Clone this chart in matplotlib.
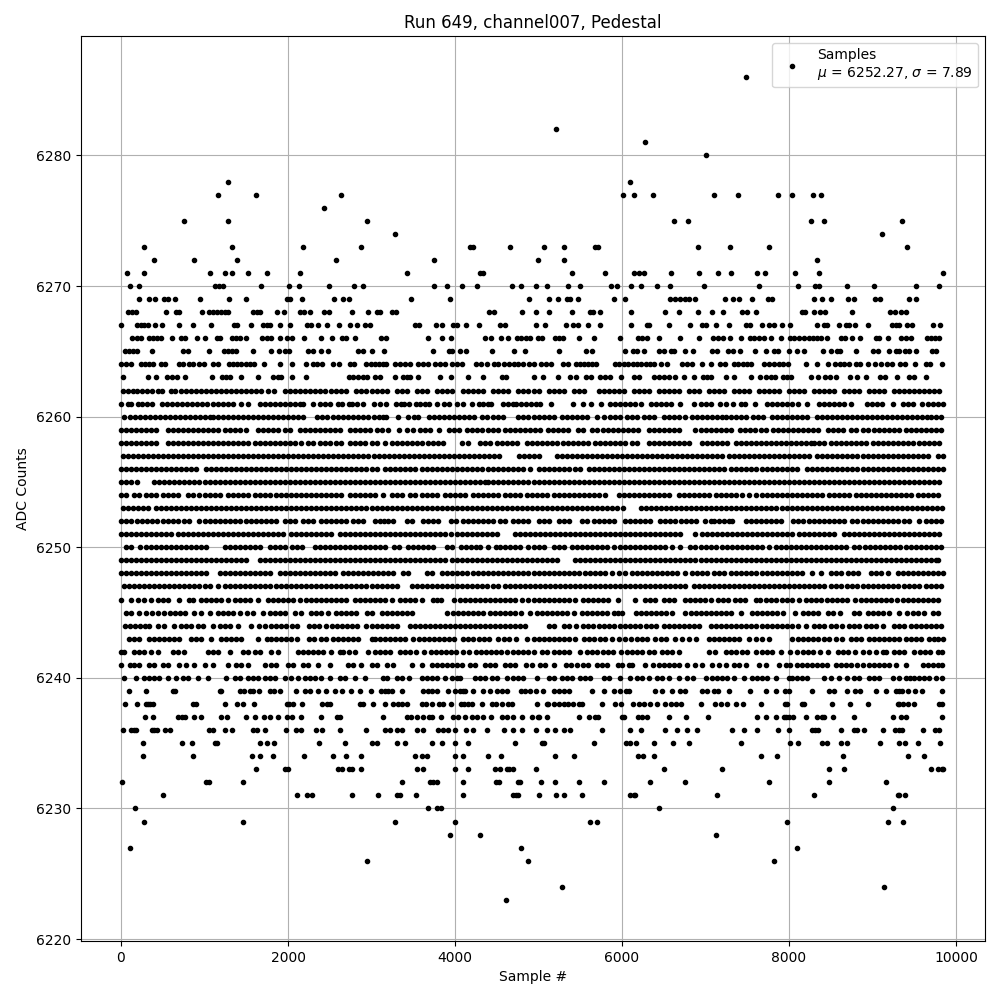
import matplotlib
matplotlib.use("Agg")
import matplotlib.pyplot as plt

# Sample numbers per ADC level.
# Outer levels are close to the real points. In the dense band the dots overlap,
# so single samples can't be told apart: there the lists only follow the visible dashes.
s6286 = [7485]
s6282 = [5208]
s6281 = [6276]
s6280 = [7008]
s6278 = [1284, 6096]
s6277 = [1164, 1620, 2640, 6012, 6144, 6372, 7104, 7392, 7872, 8040, 8292, 8388]
s6276 = [2436]
s6275 = [756, 1284, 2952, 6624, 6792, 8268, 8424, 9348]
s6274 = [3276, 9108]
s6273 = [276, 1332, 2184, 2880, 4180, 4216, 4656, 5064, 5304, 5676, 5712, 6912, 7296, 7764, 9408]
s6272 = [396, 876, 1392, 2580, 3744, 4992, 5304, 8340]
s6271 = [72, 276, 1068, 1248, 1324, 1524, 1752, 2148, 3420, 4300, 4340, 5400, 5796, 6144, 6204, 6268,
         6588, 6924, 7152, 7308, 7620, 7716, 8076, 8364, 9840]
s6270 = [108, 216, 1124, 1172, 1224, 1680, 2016, 2136, 2496, 2796, 2904, 3744, 3900, 4080, 4260, 4680,
         4788, 4968, 5100, 5352, 5496, 5868, 5940, 6108, 6232, 6420, 6576, 6984, 7644, 8112, 8316, 8364,
         8700, 9012, 9516, 9792]
s6269 = [216, 336, 408, 516, 564, 648, 948, 1296, 1500, 1992, 2024, 2168, 2556, 2664, 2736, 3468, 3936,
         4884, 5124, 5232, 5340, 5376, 5472, 5904, 6036, 6576, 6636, 6696, 6756, 6804, 6876, 7236, 7332,
         7404, 7560, 7752, 7800, 8304, 8400, 8508, 8712, 8784, 9024, 9084, 9432, 9516]
s6268 = [84, 132, 180, 540, 660, 692, 972, 1056, 1104, 1152, 1200, 1248, 1284, 1584, 1632, 1668, 1872,
         1956, 2148, 2196, 2268, 2436, 2496, 2764, 2964, 3064, 3104, 3240, 3288, 4404, 4464, 4800, 4968,
         5124, 5400, 5616, 5652, 5736, 6108, 6516, 6684, 6912, 7080, 7212, 7440, 7500, 7608, 8160, 8196,
         8304, 8376, 8436, 8760, 9204, 9264, 9336, 9396]
s6267 = [4, 192, 240, 276, 324, 408, 492, 696, 864, 1080, 1356, 1392, 1560, 1704, 1752, 1788, 1908, 2028,
         2232, 2280, 2364, 2472, 2616, 2748, 2832, 2928, 2976, 3516, 3564, 3768, 3840, 3972, 4020, 4128,
         4284, 4536, 4604, 4968, 5076, 5328, 5412, 5472, 5592, 5736, 6108, 6300, 6324, 6564, 6816, 6960,
         7008, 7128, 7284, 7488, 7536, 7680, 7764, 7824, 7920, 8016, 8340, 8424, 8460, 8604, 8688, 8724,
         8796, 8940, 9228, 9276, 9312, 9408, 9468, 9720, 9804]
s6266 = [132, 192, 240, 336, 384, 432, 480, 612, 720, 768, 912, 1008, 1152, 1188, 1332, 1380, 1428, 1500,
         1692, 1752, 1800, 1908, 1992, 2052, 2192, 2400, 2532, 2652, 2700, 2808, 3108, 3168, 3672, 3840,
         3948, 4356, 4428, 4548, 4632, 4740, 4788, 4848, 4904, 4992, 5040, 5196, 5244, 5292, 5484, 5664,
         5976, 6192, 6240, 6300, 6444, 6696, 6924, 7092, 7152, 7212, 7296, 7428, 7536, 7584, 7644, 7704,
         7788, 7908, 8016, 8064, 8124, 8184, 8244, 8292, 8340, 8388, 8460, 8628, 8676, 8760, 8856, 9036,
         9072, 9180, 9336, 9396, 9456, 9652, 9696, 9744, 9792]
s6265 = [48, 96, 144, 192, 372, 744, 804, 1056, 1236, 1284, 1332, 1380, 1584, 1800, 1896, 1968, 2016, 2244,
         2304, 2400, 2484, 2844, 2904, 3000, 3144, 3732, 3924, 3960, 4056, 4128, 4440, 4704, 4836, 5244,
         5568, 5640, 6036, 6132, 6180, 6264, 6444, 6504, 6588, 6624, 6756, 6852, 7080, 7140, 7272, 7332,
         7416, 7596, 7728, 7824, 7872, 8004, 8100, 8184, 8412, 8508, 8580, 8616, 8808, 9000, 9060, 9192,
         9276, 9312, 9384, 9432, 9516, 9708, 9756]
s6264 = [4, 64, 124, 240, 288, 336, 384, 480, 528, 696, 744, 816, 864, 936, 996, 1104, 1164, 1296, 1344,
         1392, 1440, 1500, 1548, 1596, 1716, 1908, 2052, 2220, 2304, 2352, 2412, 2544, 2616, 2748, 2796,
         2940, 2988, 3036, 3084, 3132, 3168, 3276, 3336, 3396, 3456, 3552, 3612, 3672, 3756, 3816, 3876,
         3960, 4020, 4080, 4248, 4308, 4380, 4464, 4512, 4584, 4644, 4704, 4752, 4812, 4884, 4944, 5028,
         5088, 5148, 5292, 5352, 5448, 5496, 5544, 5592, 5640, 5688, 5916, 5964, 6024, 6072, 6132, 6180,
         6228, 6288, 6336, 6384, 6468, 6540, 6720, 6780, 6840, 6960, 7068, 7176, 7236, 7344, 7392, 7452,
         7500, 7548, 7704, 7764, 7824, 7884, 7932, 7992, 8208, 8340, 8472, 8556, 8616, 8664, 8724, 8808,
         8856, 8940, 9024, 9096, 9168, 9228, 9324, 9384, 9504, 9636, 9684, 9828]
s6263 = [24, 324, 420, 552, 612, 672, 768, 1092, 1212, 1260, 1308, 1440, 1644, 1824, 1884, 1920, 2052, 2220,
         2736, 2784, 2844, 2904, 2952, 3036, 3096, 3276, 3372, 3420, 3456, 3552, 3816, 3948, 4152, 4332,
         4560, 4608, 4944, 5052, 5232, 5376, 5448, 5568, 5628, 5736, 5796, 5856, 5988, 6144, 6204, 6384,
         6444, 6504, 6564, 6636, 6744, 6864, 6972, 7020, 7068, 7248, 7344, 7548, 7656, 7728, 7788, 7836,
         7932, 7980, 8028, 8268, 8352, 8436, 8496, 8568, 8736, 8820, 8916, 9084, 9144, 9288, 9432, 9492, 9636]
s6262 = [24, 84, 144, 192, 252, 312, 372, 444, 492, 600, 648, 720, 780, 840, 900, 960, 1020, 1080, 1140, 1200,
         1260, 1320, 1380, 1440, 1500, 1560, 1620, 1680, 1764, 1836, 1968, 2028, 2088, 2148, 2208, 2268, 2328,
         2388, 2448, 2520, 2580, 2640, 2700, 2820, 2880, 2940, 3000, 3060, 3120, 3180, 3300, 3360, 3420, 3540,
         3600, 3660, 3780, 3840, 3900, 3960, 4100, 4160, 4220, 4280, 4340, 4460, 4520, 4580, 4640, 4760, 4820,
         4880, 4940, 5000, 5120, 5180, 5240, 5300, 5420, 5480, 5540, 5720, 5780, 5840, 5900, 5960, 6020, 6140,
         6200, 6260, 6320, 6440, 6500, 6560, 6620, 6680, 6800, 6860, 6920, 7040, 7100, 7160, 7220, 7340, 7400,
         7460, 7520, 7640, 7700, 7760, 7820, 7880, 8000, 8060, 8120, 8180, 8300, 8360, 8420, 8480, 8540, 8660,
         8720, 8780, 8840, 8960, 9020, 9080, 9140, 9260, 9320, 9380, 9440, 9500, 9560, 9620, 9680, 9740, 9800]
s6261 = [0, 84, 124, 204, 252, 312, 372, 492, 552, 612, 672, 732, 792, 852, 912, 972, 1032, 1096, 1156, 1216,
         1276, 1344, 1440, 1524, 1668, 1724, 1784, 1844, 1904, 1964, 2024, 2084, 2144, 2184, 2304, 2384, 2444,
         2504, 2604, 2652, 2736, 2772, 2832, 2904, 3024, 3104, 3172, 3292, 3352, 3392, 3452, 3532, 3580, 3640,
         3692, 3780, 3872, 3932, 4020, 4092, 4200, 4284, 4340, 4392, 4432, 4572, 4632, 4692, 4732, 4792, 4852,
         4912, 4972, 5012, 5144, 5412, 5532, 5632, 5752, 5856, 5912, 5972, 6032, 6092, 6152, 6232, 6352, 6412,
         6472, 6532, 6592, 6692, 6864, 6944, 7004, 7064, 7172, 7244, 7324, 7424, 7476, 7596, 7732, 7792, 7852,
         7912, 7972, 8032, 8104, 8212, 8356, 8416, 8476, 8536, 8604, 8656, 8744, 8932, 8992, 9052, 9116, 9244,
         9364, 9424, 9484, 9596, 9664, 9724, 9784, 9840]
s6260 = [40, 104, 164, 224, 284, 344, 404, 464, 524, 584, 644, 704, 764, 824, 884, 944, 1004, 1064, 1104, 1164,
         1224, 1284, 1344, 1404, 1464, 1524, 1584, 1644, 1704, 1764, 1824, 1884, 1944, 2004, 2064, 2124, 2184,
         2344, 2404, 2464, 2544, 2604, 2664, 2724, 2784, 2844, 2904, 2964, 3024, 3084, 3132, 3172, 3312, 3440,
         3512, 3552, 3692, 3752, 3812, 3872, 3932, 3992, 4052, 4112, 4172, 4232, 4320, 4380, 4460, 4520, 4580,
         4760, 4820, 4880, 4940, 5000, 5060, 5120, 5180, 5280, 5340, 5400, 5460, 5520, 5580, 5700, 5780, 5860,
         5920, 5980, 6060, 6120, 6180, 6260, 6320, 6380, 6500, 6560, 6620, 6680, 6760, 6840, 6900, 6960, 7020,
         7080, 7140, 7196, 7240, 7300, 7360, 7420, 7490, 7570, 7630, 7690, 7800, 7860, 7920, 7980, 8040, 8100,
         8160, 8220, 8330, 8390, 8450, 8510, 8570, 8630, 8690, 8750, 8810, 8870, 8930, 8990, 9050, 9110, 9170,
         9230, 9290, 9350, 9410, 9470, 9530, 9590, 9650, 9700, 9760, 9820]
s6259 = [0, 60, 124, 184, 244, 304, 364, 420, 560, 620, 680, 740, 800, 860, 920, 980, 1040, 1100, 1160, 1240,
         1300, 1360, 1420, 1500, 1640, 1700, 1760, 1820, 1880, 1960, 2020, 2140, 2200, 2260, 2320, 2380, 2440,
         2500, 2560, 2620, 2740, 2800, 2860, 2920, 2980, 3060, 3120, 3200, 3330, 3420, 3500, 3580, 3640, 3700,
         3810, 3930, 3990, 4050, 4140, 4200, 4260, 4320, 4400, 4460, 4520, 4600, 4660, 4720, 4780, 4840, 4900,
         4960, 5020, 5110, 5170, 5230, 5290, 5350, 5470, 5530, 5640, 5700, 5770, 5830, 5890, 5950, 6010, 6070,
         6130, 6190, 6320, 6380, 6440, 6500, 6560, 6620, 6680, 6880, 6940, 7000, 7060, 7120, 7180, 7240, 7300,
         7416, 7470, 7530, 7590, 7670, 7730, 7810, 7870, 7930, 7990, 8050, 8110, 8170, 8230, 8290, 8350, 8470,
         8530, 8590, 8650, 8740, 8800, 8880, 8940, 9020, 9080, 9140, 9200, 9260, 9320, 9400, 9460, 9520, 9580,
         9640, 9700, 9760, 9820]
s6258 = [0, 60, 120, 180, 240, 300, 360, 420, 564, 624, 684, 744, 804, 864, 924, 984, 1044, 1104, 1164, 1224,
         1284, 1344, 1404, 1464, 1524, 1600, 1660, 1720, 1780, 1840, 1900, 1960, 2020, 2080, 2160, 2240, 2300,
         2380, 2440, 2500, 2580, 2640, 2740, 2800, 2860, 2920, 3000, 3060, 3160, 3240, 3300, 3360, 3420, 3480,
         3540, 3600, 3680, 3740, 3800, 3860, 4080, 4150, 4300, 4360, 4420, 4500, 4560, 4620, 4680, 4740, 4860,
         4920, 4980, 5040, 5100, 5160, 5220, 5290, 5350, 5410, 5470, 5530, 5590, 5680, 5740, 5800, 5860, 5920,
         5980, 6040, 6120, 6180, 6320, 6380, 6440, 6500, 6560, 6620, 6680, 6740, 6800, 6960, 7020, 7080, 7140,
         7200, 7260, 7360, 7420, 7480, 7540, 7600, 7660, 7720, 7780, 7840, 7900, 7960, 8020, 8080, 8140, 8200,
         8260, 8300, 8360, 8420, 8500, 8560, 8620, 8680, 8740, 8800, 8860, 8920, 9000, 9060, 9120, 9180, 9240,
         9300, 9360, 9420, 9480, 9560, 9620, 9680, 9740, 9800]
s6257 = [24, 84, 144, 204, 264, 324, 384, 444, 504, 564, 624, 684, 744, 804, 864, 924, 984, 1044, 1104, 1164,
         1224, 1284, 1344, 1404, 1464, 1524, 1584, 1644, 1704, 1764, 1824, 1884, 1944, 2004, 2064, 2124, 2184,
         2244, 2304, 2364, 2424, 2484, 2544, 2604, 2664, 2724, 2784, 2844, 2904, 2964, 3024, 3084, 3144, 3204,
         3264, 3324, 3384, 3444, 3504, 3564, 3624, 3684, 3744, 3804, 3864, 3924, 3984, 4044, 4104, 4164, 4224,
         4284, 4344, 4404, 4464, 4524, 4764, 4824, 4884, 4944, 5004, 5220, 5280, 5340, 5400, 5460, 5520, 5580,
         5640, 5700, 5760, 5820, 5880, 5940, 6000, 6060, 6120, 6180, 6240, 6300, 6360, 6420, 6480, 6540, 6600,
         6660, 6720, 6780, 6840, 6900, 6960, 7020, 7080, 7140, 7200, 7280, 7340, 7400, 7460, 7520, 7580, 7640,
         7700, 7760, 7820, 7880, 7940, 8000, 8060, 8120, 8180, 8240, 8340, 8400, 8460, 8520, 8580, 8640, 8700,
         8760, 8820, 8880, 8940, 9000, 9060, 9120, 9180, 9240, 9300, 9360, 9420, 9480, 9540, 9600, 9660, 9780,
         9840]
s6256 = [0, 60, 120, 180, 240, 300, 360, 420, 480, 540, 600, 660, 720, 780, 840, 900, 1020, 1080, 1140, 1200,
         1260, 1320, 1380, 1440, 1500, 1560, 1620, 1680, 1740, 1800, 1860, 1920, 1980, 2040, 2100, 2160, 2220,
         2280, 2340, 2400, 2460, 2520, 2580, 2640, 2700, 2760, 2820, 2880, 2940, 3000, 3060, 3160, 3220, 3280,
         3340, 3400, 3460, 3520, 3600, 3660, 3720, 3780, 3840, 3900, 3960, 4020, 4080, 4140, 4200, 4260, 4320,
         4400, 4460, 4520, 4580, 4640, 4700, 4760, 4820, 4900, 5000, 5060, 5120, 5180, 5240, 5300, 5360, 5440,
         5500, 5600, 5660, 5720, 5780, 5840, 5900, 5960, 6020, 6080, 6140, 6200, 6260, 6320, 6380, 6440, 6500,
         6560, 6620, 6680, 6740, 6800, 6860, 6920, 6980, 7040, 7100, 7160, 7220, 7300, 7360, 7420, 7480, 7540,
         7600, 7680, 7740, 7800, 7860, 7920, 7980, 8040, 8100, 8220, 8280, 8340, 8400, 8460, 8520, 8580, 8640,
         8700, 8760, 8820, 8880, 8940, 9000, 9060, 9120, 9180, 9240, 9300, 9360, 9420, 9480, 9540, 9600, 9660,
         9720, 9780, 9840]
s6255 = [0, 60, 120, 196, 400, 460, 520, 580, 640, 700, 760, 820, 880, 940, 1000, 1060, 1120, 1180, 1240, 1300,
         1360, 1420, 1480, 1540, 1600, 1660, 1720, 1780, 1840, 1900, 1960, 2020, 2080, 2140, 2200, 2260, 2320,
         2380, 2440, 2500, 2560, 2620, 2680, 2740, 2800, 2860, 2920, 2980, 3040, 3100, 3160, 3220, 3280, 3340,
         3400, 3460, 3520, 3580, 3640, 3700, 3760, 3820, 3880, 3940, 4000, 4060, 4120, 4180, 4240, 4300, 4360,
         4400, 4460, 4520, 4580, 4640, 4700, 4760, 4820, 4880, 4940, 5000, 5060, 5120, 5180, 5240, 5300, 5360,
         5420, 5480, 5540, 5600, 5660, 5720, 5780, 5840, 5900, 5960, 6020, 6080, 6140, 6200, 6260, 6320, 6380,
         6440, 6500, 6560, 6620, 6680, 6740, 6800, 6860, 6920, 6980, 7040, 7100, 7160, 7220, 7280, 7340, 7400,
         7460, 7520, 7580, 7640, 7700, 7760, 7820, 7880, 7940, 8000, 8060, 8120, 8180, 8240, 8300, 8360, 8420,
         8480, 8540, 8600, 8660, 8720, 8780, 8840, 8900, 8960, 9020, 9080, 9140, 9200, 9260, 9320, 9380, 9440,
         9500, 9560, 9620, 9680, 9740, 9800]
s6254 = [0, 60, 160, 220, 300, 360, 420, 500, 560, 620, 680, 800, 860, 940, 1000, 1060, 1120, 1180, 1280, 1340,
         1400, 1460, 1520, 1600, 1660, 1720, 1780, 1860, 1920, 1980, 2040, 2100, 2160, 2220, 2280, 2340, 2400,
         2460, 2520, 2580, 2640, 2740, 2800, 2860, 2920, 2980, 3040, 3140, 3240, 3300, 3360, 3460, 3520, 3600,
         3660, 3720, 3780, 3880, 3940, 4000, 4060, 4120, 4220, 4280, 4340, 4400, 4460, 4520, 4600, 4660, 4720,
         4780, 4860, 4920, 4980, 5040, 5100, 5180, 5240, 5300, 5360, 5420, 5480, 5540, 5600, 5660, 5720, 5800,
         5960, 6020, 6080, 6140, 6200, 6260, 6320, 6380, 6440, 6500, 6560, 6680, 6740, 6800, 6860, 6920, 6980,
         7040, 7120, 7180, 7240, 7300, 7360, 7440, 7520, 7600, 7680, 7740, 7800, 7860, 7920, 7980, 8040, 8100,
         8160, 8220, 8280, 8340, 8400, 8480, 8540, 8600, 8660, 8720, 8800, 8860, 8920, 8980, 9040, 9100, 9160,
         9220, 9280, 9340, 9400, 9460, 9540, 9600, 9660, 9720, 9780]
s6253 = [20, 80, 140, 200, 260, 320, 420, 480, 540, 600, 660, 720, 780, 840, 900, 960, 1020, 1080, 1140, 1200,
         1260, 1320, 1380, 1440, 1500, 1560, 1620, 1680, 1740, 1800, 1860, 1920, 1980, 2040, 2100, 2160, 2220,
         2280, 2340, 2400, 2460, 2520, 2580, 2640, 2700, 2760, 2820, 2880, 2940, 3000, 3060, 3120, 3180, 3240,
         3300, 3360, 3420, 3480, 3540, 3600, 3660, 3720, 3780, 3840, 3900, 3960, 4020, 4080, 4140, 4200, 4260,
         4320, 4380, 4440, 4500, 4560, 4620, 4680, 4740, 4800, 4860, 4920, 4980, 5040, 5100, 5160, 5220, 5280,
         5340, 5400, 5460, 5520, 5580, 5640, 5700, 5760, 5820, 5880, 5940, 6010, 6230, 6290, 6350, 6410, 6470,
         6530, 6590, 6650, 6710, 6770, 6830, 6890, 6950, 7010, 7070, 7130, 7190, 7250, 7310, 7370, 7430, 7490,
         7550, 7610, 7670, 7730, 7790, 7850, 7910, 7970, 8030, 8090, 8150, 8210, 8270, 8330, 8390, 8450, 8510,
         8570, 8630, 8690, 8750, 8810, 8870, 8930, 8990, 9050, 9110, 9170, 9230, 9290, 9350, 9410, 9470, 9530,
         9590, 9650, 9710, 9770, 9830]
s6252 = [0, 60, 120, 190, 250, 310, 370, 430, 500, 560, 620, 680, 760, 820, 940, 1000, 1060, 1120, 1180, 1240,
         1300, 1360, 1420, 1500, 1560, 1620, 1680, 1740, 1800, 1860, 1960, 2020, 2080, 2180, 2240, 2300, 2400,
         2460, 2520, 2580, 2640, 2700, 2780, 2840, 2900, 3040, 3100, 3150, 3200, 3260, 3420, 3480, 3620, 3680,
         3740, 3800, 3950, 4010, 4100, 4160, 4220, 4280, 4340, 4400, 4460, 4540, 4600, 4700, 4760, 4820, 4880,
         5000, 5060, 5120, 5240, 5300, 5360, 5520, 5580, 5660, 5720, 5780, 5840, 5900, 6040, 6100, 6160, 6220,
         6280, 6340, 6460, 6520, 6580, 6640, 6710, 6770, 6830, 6890, 6990, 7060, 7100, 7160, 7220, 7280, 7320,
         7480, 7540, 7600, 7660, 7720, 7780, 7840, 7900, 8050, 8110, 8170, 8240, 8300, 8360, 8420, 8480, 8540,
         8600, 8660, 8760, 8820, 8880, 8940, 9000, 9060, 9120, 9180, 9240, 9300, 9380, 9440, 9560, 9640, 9700,
         9760, 9820]
s6251 = [0, 60, 120, 180, 240, 300, 360, 420, 480, 540, 600, 680, 740, 800, 860, 920, 980, 1040, 1100, 1160,
         1220, 1280, 1340, 1400, 1460, 1520, 1580, 1640, 1700, 1760, 1820, 1880, 1940, 2040, 2100, 2160, 2220,
         2280, 2340, 2400, 2460, 2520, 2620, 2680, 2740, 2800, 2860, 2920, 2980, 3040, 3100, 3160, 3220, 3280,
         3340, 3400, 3460, 3520, 3580, 3640, 3700, 3760, 3820, 3880, 3950, 4020, 4080, 4140, 4200, 4260, 4320,
         4380, 4440, 4500, 4720, 4780, 4840, 4900, 4960, 5020, 5080, 5140, 5200, 5260, 5320, 5380, 5440, 5500,
         5560, 5620, 5680, 5740, 5800, 5860, 5920, 5980, 6040, 6100, 6160, 6220, 6280, 6340, 6400, 6460, 6520,
         6580, 6640, 6700, 6880, 6960, 7020, 7080, 7140, 7200, 7260, 7320, 7380, 7440, 7500, 7560, 7620, 7680,
         7740, 7800, 7860, 7920, 7980, 8040, 8120, 8180, 8240, 8300, 8360, 8420, 8480, 8540, 8660, 8720, 8780,
         8840, 8900, 8960, 9020, 9080, 9140, 9200, 9260, 9320, 9380, 9440, 9500, 9560, 9620, 9680, 9740, 9800]
s6250 = [60, 120, 230, 300, 360, 420, 480, 540, 600, 660, 720, 780, 840, 900, 960, 1020, 1240, 1300, 1360, 1420,
         1480, 1540, 1600, 1660, 1780, 1840, 1900, 1960, 2050, 2110, 2170, 2320, 2380, 2440, 2500, 2560, 2620,
         2680, 2740, 2800, 2860, 2920, 2980, 3040, 3100, 3160, 3270, 3330, 3440, 3500, 3560, 3620, 3680, 3740,
         3910, 3960, 4070, 4130, 4190, 4250, 4300, 4400, 4490, 4540, 4600, 4660, 4720, 4780, 4880, 4940, 5000,
         5060, 5180, 5240, 5300, 5400, 5460, 5520, 5580, 5640, 5700, 5760, 5820, 5900, 5980, 6040, 6100, 6160,
         6220, 6280, 6340, 6400, 6460, 6520, 6600, 6700, 6820, 6880, 6940, 7000, 7060, 7120, 7200, 7260, 7320,
         7380, 7440, 7500, 7560, 7620, 7680, 7760, 7840, 7900, 7960, 8020, 8080, 8140, 8200, 8260, 8320, 8380,
         8440, 8500, 8560, 8620, 8680, 8780, 8840, 8910, 8970, 9030, 9090, 9150, 9210, 9270, 9330, 9400, 9460,
         9520, 9580, 9640, 9700, 9760, 9820]
s6249 = [0, 60, 120, 180, 240, 300, 360, 420, 480, 540, 600, 660, 720, 780, 840, 900, 960, 1020, 1080, 1140,
         1200, 1260, 1320, 1380, 1440, 1500, 1660, 1720, 1780, 1840, 1900, 1960, 2020, 2080, 2140, 2200, 2260,
         2320, 2380, 2440, 2500, 2560, 2620, 2680, 2740, 2800, 2860, 2920, 2980, 3040, 3100, 3160, 3220, 3280,
         3340, 3400, 3460, 3520, 3580, 3640, 3700, 3760, 3820, 3880, 3960, 4020, 4080, 4140, 4200, 4260, 4320,
         4380, 4440, 4500, 4560, 4620, 4680, 4740, 4800, 4860, 4920, 4980, 5040, 5100, 5160, 5220, 5440, 5500,
         5560, 5620, 5680, 5740, 5800, 5860, 5920, 5980, 6040, 6100, 6160, 6220, 6280, 6340, 6400, 6460, 6520,
         6580, 6640, 6700, 6760, 6820, 6880, 6940, 7000, 7060, 7120, 7180, 7240, 7300, 7360, 7420, 7480, 7540,
         7600, 7660, 7720, 7780, 7840, 7900, 7960, 8020, 8080, 8140, 8200, 8260, 8320, 8380, 8440, 8500, 8560,
         8620, 8680, 8740, 8800, 8860, 8920, 8980, 9040, 9100, 9160, 9220, 9280, 9340, 9400, 9460, 9520, 9580,
         9640, 9700, 9760, 9780]
s6248 = [0, 60, 120, 180, 240, 300, 360, 420, 480, 540, 600, 660, 720, 780, 840, 900, 960, 1020, 1180, 1240,
         1300, 1360, 1420, 1480, 1540, 1600, 1660, 1720, 1780, 1900, 1960, 2020, 2080, 2140, 2200, 2260, 2320,
         2380, 2440, 2500, 2560, 2660, 2720, 2780, 2840, 2900, 2960, 3020, 3080, 3140, 3200, 3260, 3380, 3440,
         3660, 3720, 3840, 3900, 3960, 4020, 4080, 4140, 4220, 4280, 4340, 4400, 4460, 4520, 4580, 4640, 4700,
         4760, 4820, 4880, 4940, 5000, 5060, 5120, 5180, 5240, 5300, 5360, 5420, 5480, 5560, 5620, 5680, 5740,
         5800, 5880, 5960, 6040, 6120, 6180, 6240, 6300, 6360, 6420, 6480, 6540, 6600, 6660, 6760, 6840, 6900,
         6960, 7020, 7100, 7160, 7220, 7300, 7360, 7420, 7480, 7540, 7600, 7680, 7740, 7800, 7860, 7920, 7980,
         8040, 8100, 8160, 8280, 8380, 8500, 8560, 8620, 8710, 8770, 8830, 8980, 9040, 9100, 9180, 9300, 9360,
         9420, 9480, 9540, 9600, 9660, 9720, 9780, 9840]
s6247 = [40, 100, 160, 220, 280, 340, 400, 460, 520, 580, 640, 700, 760, 820, 880, 940, 1000, 1060, 1160, 1240,
         1300, 1360, 1420, 1480, 1540, 1600, 1660, 1720, 1780, 1860, 1920, 1980, 2040, 2100, 2160, 2220, 2280,
         2340, 2400, 2460, 2520, 2580, 2640, 2700, 2760, 2820, 2880, 2940, 3000, 3060, 3120, 3180, 3240, 3310,
         3480, 3540, 3600, 3660, 3720, 3780, 3840, 3900, 3960, 4020, 4080, 4140, 4200, 4260, 4320, 4380, 4450,
         4520, 4600, 4660, 4720, 4780, 4840, 4900, 4960, 5020, 5080, 5140, 5200, 5260, 5320, 5380, 5440, 5500,
         5560, 5620, 5680, 5740, 5800, 5860, 5920, 5980, 6040, 6100, 6160, 6220, 6280, 6340, 6400, 6460, 6520,
         6580, 6640, 6700, 6760, 6860, 6920, 6980, 7040, 7100, 7160, 7220, 7280, 7340, 7400, 7460, 7520, 7580,
         7640, 7700, 7760, 7820, 7880, 7940, 8000, 8060, 8120, 8180, 8240, 8300, 8360, 8420, 8500, 8560, 8620,
         8700, 8760, 8820, 8880, 8940, 9000, 9060, 9120, 9180, 9240, 9300, 9380, 9440, 9500, 9560, 9640, 9700,
         9760, 9820]
s6246 = [0, 120, 200, 270, 360, 440, 500, 560, 690, 810, 860, 960, 1020, 1080, 1140, 1200, 1280, 1360, 1420,
         1480, 1540, 1640, 1760, 1820, 1880, 1940, 2000, 2060, 2140, 2210, 2280, 2340, 2400, 2460, 2520, 2580,
         2640, 2700, 2800, 2860, 2920, 2980, 3040, 3100, 3160, 3250, 3340, 3400, 3460, 3520, 3600, 3740, 3780,
         3830, 3990, 4060, 4120, 4180, 4240, 4300, 4360, 4420, 4480, 4540, 4600, 4660, 4720, 4800, 4880, 4940,
         5000, 5060, 5130, 5190, 5250, 5310, 5370, 5440, 5530, 5590, 5650, 5710, 5770, 5830, 5950, 6160, 6280,
         6340, 6400, 6500, 6560, 6620, 6750, 6810, 6870, 6930, 6990, 7070, 7150, 7210, 7270, 7350, 7410, 7470,
         7600, 7650, 7730, 7790, 7850, 7910, 7970, 8030, 8120, 8200, 8260, 8320, 8380, 8450, 8510, 8570, 8630,
         8700, 8790, 8860, 8920, 8980, 9040, 9100, 9160, 9220, 9290, 9370, 9430, 9490, 9550, 9610, 9670, 9730,
         9790]
s6245 = [60, 120, 220, 300, 370, 440, 520, 590, 650, 710, 770, 880, 960, 1060, 1160, 1220, 1280, 1340, 1420,
         1510, 1580, 1700, 1780, 1840, 1900, 1960, 2080, 2150, 2280, 2340, 2400, 2480, 2580, 2640, 2700, 2760,
         2820, 2950, 3000, 3130, 3190, 3250, 3310, 3370, 3430, 3490, 3910, 3970, 4030, 4090, 4150, 4210, 4270,
         4330, 4420, 4480, 4540, 4600, 4660, 4720, 4790, 4900, 4980, 5040, 5100, 5160, 5220, 5280, 5340, 5420,
         5520, 5580, 5640, 5700, 5760, 5820, 5900, 5950, 6000, 6170, 6230, 6290, 6350, 6410, 6470, 6530, 6600,
         6750, 6830, 6890, 6950, 7010, 7070, 7130, 7190, 7250, 7310, 7430, 7560, 7620, 7680, 7740, 7800, 7860,
         7930, 8070, 8170, 8230, 8290, 8350, 8470, 8530, 8610, 8780, 8840, 8940, 9000, 9060, 9120, 9200, 9320,
         9410, 9480, 9540, 9620, 9720, 9780]
s6244 = [44, 104, 164, 224, 284, 340, 440, 520, 640, 720, 780, 840, 920, 980, 1100, 1180, 1240, 1300, 1400,
         1560, 1650, 1720, 1800, 1860, 1920, 1980, 2050, 2110, 2250, 2310, 2370, 2450, 2530, 2590, 2650, 2710,
         2770, 2830, 2940, 3000, 3060, 3120, 3180, 3240, 3300, 3460, 3520, 3580, 3640, 3700, 3760, 3820, 3880,
         3940, 4000, 4060, 4120, 4180, 4240, 4300, 4360, 4420, 4480, 4540, 4600, 4660, 4720, 4780, 4840, 5120,
         5190, 5310, 5370, 5450, 5530, 5590, 5650, 5730, 5790, 5850, 5910, 5970, 6030, 6090, 6150, 6210, 6290,
         6350, 6410, 6500, 6560, 6620, 6680, 6740, 6800, 6860, 6920, 7060, 7120, 7180, 7240, 7300, 7360, 7420,
         7480, 7540, 7600, 7680, 7740, 7800, 7860, 7920, 7980, 8040, 8110, 8200, 8300, 8360, 8420, 8500, 8560,
         8640, 8720, 8780, 8840, 8920, 8980, 9040, 9120, 9260, 9320, 9380, 9460, 9520, 9580, 9640, 9700, 9760,
         9820]
s6243 = [90, 160, 220, 340, 400, 460, 520, 580, 640, 700, 840, 900, 960, 1080, 1200, 1260, 1320, 1380, 1440,
         1640, 1750, 1800, 1860, 1920, 1980, 2040, 2110, 2250, 2310, 2400, 2460, 2540, 2600, 2660, 2720, 2780,
         2840, 3000, 3040, 3100, 3160, 3220, 3280, 3340, 3400, 3500, 3570, 3630, 3690, 3750, 3810, 3870, 3930,
         3990, 4090, 4150, 4210, 4290, 4350, 4410, 4510, 4590, 4650, 4730, 4860, 4940, 5000, 5060, 5120, 5180,
         5240, 5300, 5360, 5440, 5550, 5610, 5670, 5740, 5800, 5880, 5960, 6030, 6110, 6180, 6240, 6300, 6400,
         6470, 6530, 6640, 6720, 6800, 6890, 7040, 7100, 7160, 7220, 7280, 7340, 7400, 7520, 7600, 7680, 7760,
         8040, 8110, 8170, 8230, 8290, 8350, 8420, 8480, 8560, 8640, 8740, 8800, 8860, 8960, 9020, 9080, 9140,
         9200, 9260, 9320, 9400, 9460, 9520, 9580, 9680, 9740, 9790, 9840]
s6242 = [0, 40, 160, 220, 280, 360, 440, 620, 680, 760, 1040, 1100, 1160, 1300, 1460, 1520, 1600, 1660, 1800,
         1880, 2120, 2180, 2240, 2300, 2360, 2420, 2520, 2620, 2660, 2730, 2800, 2960, 3040, 3100, 3160, 3220,
         3340, 3400, 3460, 3530, 3630, 3710, 3770, 3830, 3890, 3950, 4010, 4090, 4170, 4250, 4310, 4370, 4430,
         4490, 4550, 4620, 4700, 4760, 4820, 4880, 4950, 5040, 5100, 5180, 5250, 5310, 5370, 5500, 5580, 5640,
         5700, 5770, 5830, 5890, 5990, 6060, 6120, 6180, 6240, 6320, 6380, 6480, 6540, 6600, 6680, 7040, 7110,
         7240, 7300, 7370, 7440, 7500, 7610, 7680, 7740, 7800, 7900, 8010, 8090, 8170, 8230, 8290, 8370, 8470,
         8590, 8650, 8710, 8790, 8880, 8960, 9040, 9120, 9160, 9260, 9320, 9380, 9500, 9570, 9630, 9690, 9780,
         9830]
s6241 = [0, 110, 160, 210, 340, 400, 500, 560, 700, 780, 880, 1000, 1100, 1280, 1380, 1440, 1520, 1720, 1800,
         1860, 2000, 2060, 2180, 2240, 2360, 2500, 2720, 2780, 2880, 3000, 3060, 3180, 3260, 3480, 3600, 3720,
         3780, 3840, 3900, 3960, 4020, 4080, 4180, 4240, 4360, 4420, 4480, 4600, 4660, 4720, 4850, 4920, 5020,
         5080, 5180, 5330, 5390, 5460, 5530, 5590, 5700, 5760, 5820, 5950, 6000, 6080, 6120, 6280, 6370, 6440,
         6500, 6560, 6620, 6680, 6780, 6880, 6960, 7080, 7160, 7240, 7340, 7400, 7480, 7640, 7720, 7880, 7960,
         8010, 8090, 8160, 8220, 8280, 8340, 8400, 8460, 8560, 8620, 8680, 8740, 8820, 8880, 8960, 9020, 9080,
         9140, 9200, 9280, 9400, 9600, 9660, 9720, 9780, 9830]
s6240 = [40, 180, 270, 340, 400, 460, 560, 660, 740, 800, 920, 1040, 1260, 1360, 1430, 1520, 1580, 1640, 1720,
         1780, 1840, 1960, 2040, 2120, 2200, 2260, 2320, 2400, 2500, 2620, 2680, 2800, 2920, 3140, 3190, 3300,
         3360, 3450, 3600, 3660, 3720, 3780, 3880, 3960, 4020, 4060, 4240, 4300, 4360, 4440, 4500, 4620, 4700,
         4760, 4820, 4980, 5120, 5180, 5280, 5340, 5400, 5500, 5560, 5620, 5780, 5840, 5980, 6100, 6180, 6240,
         6320, 6420, 6480, 6560, 6680, 6780, 6850, 7000, 7080, 7140, 7200, 7260, 7340, 7460, 7560, 7620, 7680,
         7740, 7840, 8000, 8040, 8100, 8160, 8220, 8420, 8500, 8600, 8700, 8780, 8840, 8960, 9020, 9080, 9240,
         9320, 9400, 9450, 9500, 9560, 9620, 9680, 9760, 9830]
s6239 = [92, 304, 620, 650, 1180, 1200, 1430, 1470, 1540, 1580, 1650, 1780, 1830, 1910, 2090, 2200, 2260, 2360,
         2460, 2560, 2650, 2760, 2860, 2990, 3110, 3160, 3200, 3250, 3370, 3620, 3680, 3720, 3780, 3920, 4000,
         4060, 4100, 4120, 4220, 4330, 4420, 4500, 4560, 4620, 4790, 4840, 4900, 4970, 5050, 5180, 5250, 5300,
         5370, 5640, 5780, 5910, 5980, 6050, 6080, 6400, 6480, 6600, 6700, 6750, 6960, 7020, 7100, 7150, 7280,
         7530, 7730, 7840, 7950, 8000, 8280, 8480, 8540, 8700, 8790, 8850, 9040, 9160, 9280, 9320, 9350, 9420,
         9510, 9590, 9830]
s6238 = [48, 192, 300, 320, 350, 380, 864, 904, 1248, 1384, 1464, 1596, 1992, 2010, 2060, 2170, 2410, 2470, 2500,
         2860, 2900, 3020, 3160, 3260, 3320, 3370, 3420, 3600, 3650, 3730, 3810, 3860, 3950, 4070, 4110, 4150,
         4200, 4320, 4440, 4490, 4560, 4640, 4680, 4980, 5100, 5110, 5180, 5250, 5300, 5350, 5410, 5480, 5520,
         5760, 5920, 5990, 6130, 6200, 6260, 6340, 6420, 6520, 6590, 6650, 6710, 6940, 7110, 7180, 7260, 7370,
         7450, 7660, 7950, 7980, 8160, 8180, 8520, 8730, 8940, 9300, 9320, 9370, 9430, 9500, 9800, 9830]
s6237 = [288, 384, 688, 728, 772, 880, 960, 1196, 1264, 1496, 1600, 1710, 1780, 1880, 1990, 2050, 2160, 2400, 2590,
         2620, 3140, 3420, 3470, 3550, 3620, 3690, 3730, 3830, 3970, 4030, 4120, 4200, 4260, 4340, 4430, 4560,
         4620, 4690, 4800, 4920, 4990, 5000, 5100, 5490, 5600, 5680, 5710, 6000, 6020, 6190, 6240, 6300, 6560,
         6770, 7030, 7620, 7720, 7850, 7940, 7960, 8000, 8050, 8200, 8340, 8390, 8420, 8530, 8780, 9240, 9340,
         9400, 9830]
s6236 = [24, 120, 156, 184, 372, 400, 436, 528, 584, 1052, 1100, 1240, 1324, 1580, 1630, 1720, 1980, 2100, 2150,
         2330, 2410, 2620, 2940, 3160, 3220, 3300, 3370, 3540, 3620, 3800, 3860, 3920, 4000, 4130, 4220, 4380,
         4590, 4700, 4800, 4970, 5100, 5200, 5310, 5380, 5760, 6090, 6230, 6520, 6660, 6780, 6900, 7320, 7460,
         7620, 7870, 8000, 8270, 8310, 8350, 8620, 8780, 8820, 8900, 9120, 9270, 9320, 9350, 9610, 9750, 9800]
s6235 = [264, 732, 852, 1128, 1148, 1660, 1748, 1836, 2376, 2680, 3000, 3060, 3300, 3400, 3720, 3850, 4000, 4150, 4720,
         5040, 5060, 5670, 6050, 6100, 6170, 6380, 6610, 6800, 7430, 8010, 8110, 8390, 8460, 8620, 8690, 9090,
         9320, 9390, 9540, 9810]
s6234 = [264, 864, 1564, 1660, 1824, 2196, 2544, 2696, 2880, 3520, 3600, 3660, 4000, 4100, 4400, 4550, 5196, 5430,
         6190, 6250, 6380, 7670, 7860, 8650, 9430, 9620]
s6233 = [1620, 1960, 2000, 2600, 2650, 2730, 2770, 2880, 3550, 3620, 4000, 4160, 4480, 4540, 4620, 4650, 4700, 4970,
         6500, 7200, 8480, 8660, 9700, 9780, 9830, 9840]
s6232 = [8, 1020, 1050, 1464, 3360, 3700, 3740, 3780, 4090, 4490, 4530, 4750, 4780, 5030, 5200, 5480, 5780, 6330,
         6760, 7760, 8480, 9160]
s6231 = [500, 2110, 2230, 2290, 2770, 3080, 3300, 3340, 3530, 4100, 4700, 4730, 4760, 5010, 5210, 5310, 5520,
         6100, 6140, 6150, 7140, 8300, 9300, 9320, 9390]
s6230 = [168, 3680, 3780, 3830, 6440, 9240]
s6229 = [276, 1464, 3276, 4000, 5620, 5700, 7980, 9180, 9360]
s6228 = [3940, 4296, 7120]
s6227 = [108, 4788, 8090]
s6226 = [2952, 4872, 7820]
s6224 = [5280, 9140]
s6223 = [4608]

levels = [6286, 6282, 6281, 6280, 6278, 6277, 6276, 6275, 6274, 6273, 6272, 6271, 6270, 6269, 6268, 6267,
          6266, 6265, 6264, 6263, 6262, 6261, 6260, 6259, 6258, 6257, 6256, 6255, 6254, 6253, 6252, 6251, 6250,
          6249, 6248, 6247, 6246, 6245, 6244, 6243, 6242, 6241, 6240, 6239, 6238, 6237, 6236, 6235, 6234, 6233,
          6232, 6231, 6230, 6229, 6228, 6227, 6226, 6224, 6223]
samples = [s6286, s6282, s6281, s6280, s6278, s6277, s6276, s6275, s6274, s6273, s6272, s6271, s6270, s6269,
           s6268, s6267, s6266, s6265, s6264, s6263, s6262, s6261, s6260, s6259, s6258, s6257, s6256, s6255, s6254,
           s6253, s6252, s6251, s6250, s6249, s6248, s6247, s6246, s6245, s6244, s6243, s6242, s6241, s6240, s6239,
           s6238, s6237, s6236, s6235, s6234, s6233, s6232, s6231, s6230, s6229, s6228, s6227, s6226, s6224, s6223]

mean_adc = 6252.27
std_adc = 7.89

x = []
y = []
for level, sample_list in zip(levels, samples):
    x += sample_list
    y += [level] * len(sample_list)

plt.figure(figsize=(10, 10))
plt.plot(x, y, "k.", label=f"Samples\n$\\mu$ = {mean_adc:.2f}, $\\sigma$ = {std_adc:.2f}")
plt.xlim(-479, 10347)
plt.ylim(6219.85, 6289.15)
plt.xlabel("Sample #")
plt.ylabel("ADC Counts")
plt.title("Run 649, channel007, Pedestal")
plt.grid(True)
plt.legend(loc="upper right")
# tight_layout left the axes 2 px low, so the margins are set by hand
plt.subplots_adjust(left=0.081, right=0.985, top=0.964, bottom=0.059)
plt.savefig("out.png", dpi=100)
